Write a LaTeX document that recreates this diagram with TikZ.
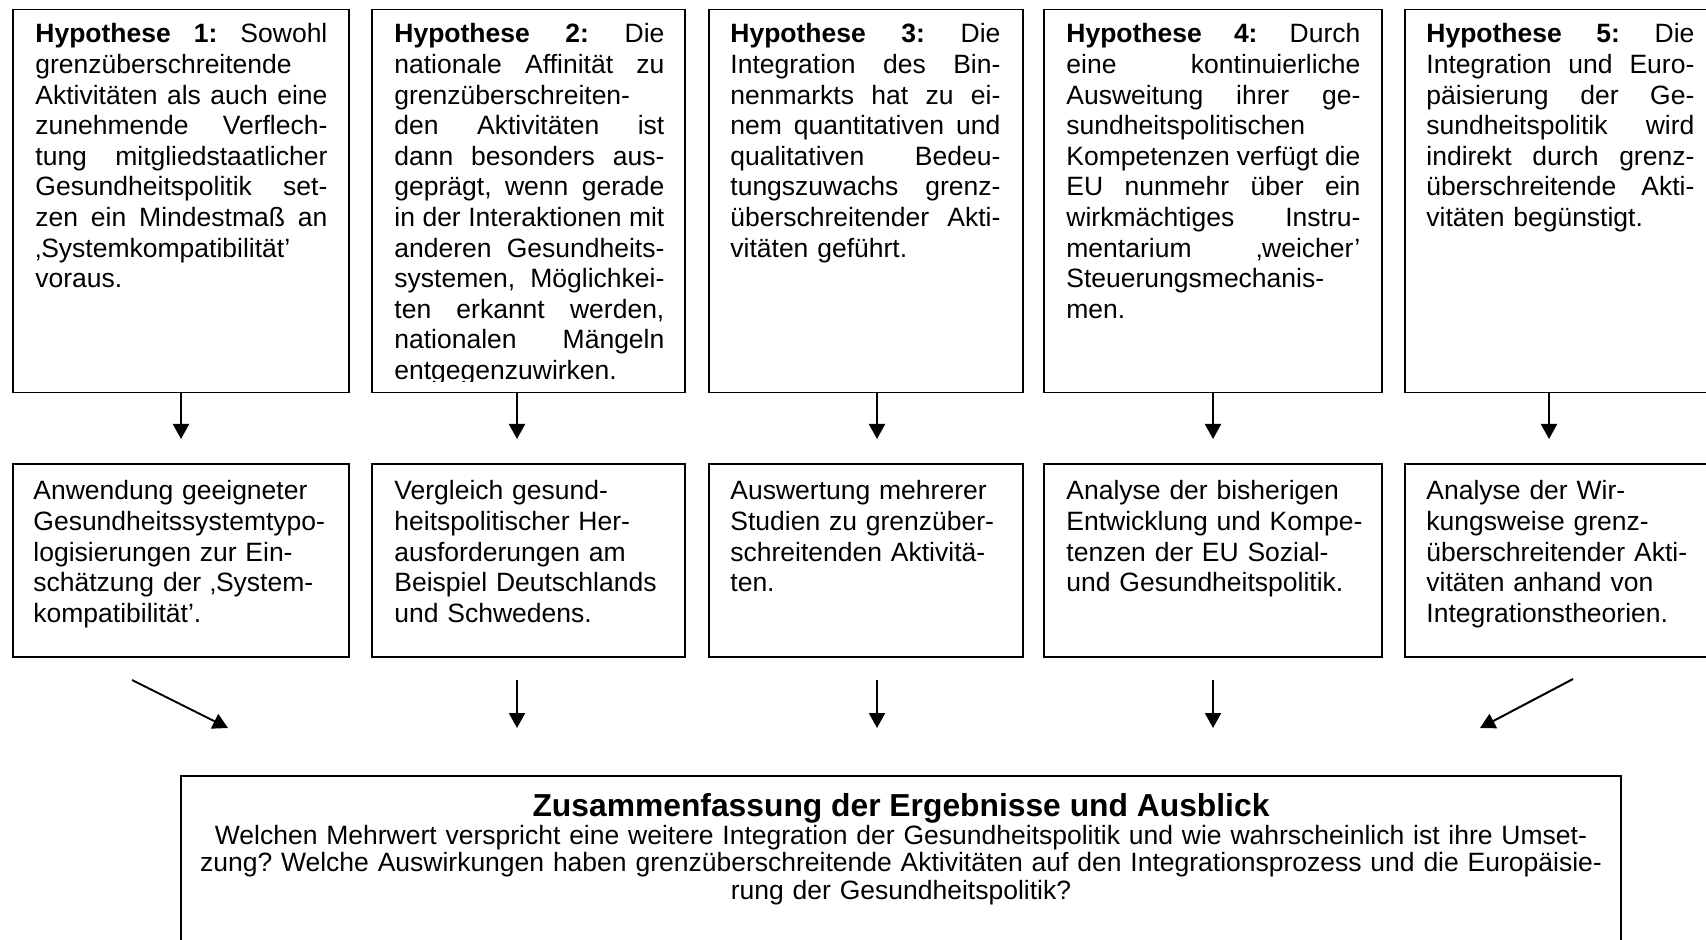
\documentclass[tikz,border=0pt]{standalone}
\usepackage{fontspec}
\setmainfont{Liberation Sans}
\usetikzlibrary{arrows.meta}
\newlength{\tw}
\newcommand{\jl}[1]{\leavevmode\hbox to\tw{#1}}
\newcommand{\jf}{\hskip 0.25em plus 1fil\relax}
\newcommand{\bodyfont}{\frenchspacing\fontsize{13.25pt}{15.3pt}\selectfont}
\newcommand{\botfont}{\frenchspacing\fontsize{13.25pt}{13.85pt}\selectfont}
\newcommand{\titlefont}{\fontsize{15.9pt}{18pt}\selectfont\bfseries}
\frenchspacing
\begin{document}
\begin{tikzpicture}[x=0.5pt,y=-0.5pt,
  box/.style={draw, line width=0.9pt, inner sep=0pt},
  txt/.style={anchor=base west, inner sep=0pt, text width=#1, align=left, font=\bodyfont},
  arr/.style={line width=1pt, -{Triangle[length=7.5pt,width=8pt]}}]
\useasboundingbox (0,0) rectangle (1706,940);
\fill[white] (0,0) rectangle (1706,940);
\clip (0,0) rectangle (1706,940);

% row 1 boxes
\node[box, minimum width=168pt, minimum height=191.5pt] (h1) at (181,201) {};
\node[box, minimum width=156.5pt, minimum height=191.5pt] (h2) at (528.5,201) {};
\node[box, minimum width=157pt, minimum height=191.5pt] (h3) at (866,201) {};
\node[box, minimum width=169pt, minimum height=191.5pt] (h4) at (1213,201) {};
\node[box, minimum width=156.5pt, minimum height=191.5pt] (h5) at (1561.5,201) {};

% row 2 boxes
\node[box, minimum width=168pt, minimum height=96.5pt] (m1) at (181,560.5) {};
\node[box, minimum width=156.5pt, minimum height=96.5pt] (m2) at (528.5,560.5) {};
\node[box, minimum width=157pt, minimum height=96.5pt] (m3) at (866,560.5) {};
\node[box, minimum width=169pt, minimum height=96.5pt] (m4) at (1213,560.5) {};
\node[box, minimum width=156.5pt, minimum height=96.5pt] (m5) at (1561.5,560.5) {};

% bottom box
\node[box, minimum width=720pt, minimum height=112pt] (z) at (901,888) {};

% row 1 texts
\node[txt=146pt] (t1) at (35,43) {\setlength{\tw}{146pt}%
\jl{\textbf{Hypothese}\jf\textbf{1:}\jf Sowohl}\\
grenzüberschreitende\\
\jl{Aktivitäten\jf als\jf auch\jf eine}\\
\jl{zunehmende\jf Verflech-}\\
\jl{tung\jf mitgliedstaatlicher}\\
\jl{Gesundheitspolitik\jf set-}\\
\jl{zen\jf ein\jf Mindestmaß\jf an}\\
‚Systemkompatibilität’\\
voraus.};

\begin{scope}
\clip (372,0) rectangle (685,382);
\node[txt=135pt] (t2) at (394,43) {\setlength{\tw}{135pt}%
\jl{\textbf{Hypothese}\jf\textbf{2:}\jf Die}\\
\jl{nationale\jf Affinität\jf zu}\\
grenzüberschreiten-\\
\jl{den\jf Aktivitäten\jf ist}\\
\jl{dann\jf besonders\jf aus-}\\
\jl{geprägt,\jf wenn\jf gerade}\\
\jl{in\jf der\jf Interaktionen\jf mit}\\
\jl{anderen\jf Gesundheits-}\\
\jl{systemen,\jf Möglichkei-}\\
\jl{ten\jf erkannt\jf werden,}\\
\jl{nationalen\jf Mängeln}\\
entgegenzuwirken.};
\end{scope}

\node[txt=135pt] (t3) at (730,43) {\setlength{\tw}{135pt}%
\jl{\textbf{Hypothese}\jf\textbf{3:}\jf Die}\\
\jl{Integration\jf des\jf Bin-}\\
\jl{nenmarkts\jf hat\jf zu\jf ei-}\\
\jl{nem\jf quantitativen\jf und}\\
\jl{qualitativen\jf Bedeu-}\\
\jl{tungszuwachs\jf grenz-}\\
\jl{überschreitender\jf Akti-}\\
vitäten geführt.};

\node[txt=147pt] (t4) at (1066,43) {\setlength{\tw}{147pt}%
\jl{\textbf{Hypothese}\jf\textbf{4:}\jf Durch}\\
\jl{eine\jf kontinuierliche}\\
\jl{Ausweitung\jf ihrer\jf ge-}\\
sundheitspolitischen\\
\jl{Kompetenzen\jf verfügt\jf die}\\
\jl{EU\jf nunmehr\jf über\jf ein}\\
\jl{wirkmächtiges\jf Instru-}\\
\jl{mentarium\jf ‚weicher’}\\
Steuerungsmechanis-\\
men.};

\node[txt=134pt] (t5) at (1426,43) {\setlength{\tw}{134pt}%
\jl{\textbf{Hypothese}\jf\textbf{5:}\jf Die}\\
\jl{Integration\jf und\jf Euro-}\\
\jl{päisierung\jf der\jf Ge-}\\
\jl{sundheitspolitik\jf wird}\\
\jl{indirekt\jf durch\jf grenz-}\\
\jl{überschreitende\jf Akti-}\\
vitäten begünstigt.};

% row 2 texts
\node[txt=150pt] (u1) at (33,500) {Anwendung geeigneter\\
Gesundheitssystemtypo-\\
logisierungen zur Ein-\\
schätzung der ‚System-\\
kompatibilität’.};
\node[txt=140pt] (u2) at (394,500) {Vergleich gesund-\\
heitspolitischer Her-\\
ausforderungen am\\
Beispiel Deutschlands\\
und Schwedens.};
\node[txt=140pt] (u3) at (730,500) {Auswertung mehrerer\\
Studien zu grenzüber-\\
schreitenden Aktivitä-\\
ten.};
\node[txt=150pt] (u4) at (1066,500) {Analyse der bisherigen\\
Entwicklung und Kompe-\\
tenzen der EU Sozial-\\
und Gesundheitspolitik.};
\node[txt=140pt] (u5) at (1426,500) {Analyse der Wir-\\
kungsweise grenz-\\
überschreitender Akti-\\
vitäten anhand von\\
Integrationstheorien.};

% bottom texts
\node[anchor=base, inner sep=0pt, font=\titlefont] (zt) at (901,816) {Zusammenfassung der Ergebnisse und Ausblick};
\node[anchor=base, inner sep=0pt, text width=715pt, align=center, font=\botfont] (zq) at (901,844) {Welchen Mehrwert verspricht eine weitere Integration der Gesundheitspolitik und wie wahrscheinlich ist ihre Umset-\\
zung? Welche Auswirkungen haben grenzüberschreitende Aktivitäten auf den Integrationsprozess und die Europäisie-\\
rung der Gesundheitspolitik?};

% arrows row 1 -> row 2
\coordinate (a1) at (181,439);
\coordinate (a2) at (517,439);
\coordinate (a3) at (877,439);
\coordinate (a4) at (1213,439);
\coordinate (a5) at (1549,439);
\draw[arr] (h1.south -| a1) -- (a1);
\draw[arr] (h2.south -| a2) -- (a2);
\draw[arr] (h3.south -| a3) -- (a3);
\draw[arr] (h4.south -| a4) -- (a4);
\draw[arr] (h5.south -| a5) -- (a5);

% arrows row 2 -> bottom
\coordinate (s1) at (132,680);  \coordinate (e1) at (228,728);
\coordinate (s2) at (517,680);  \coordinate (e2) at (517,728);
\coordinate (s3) at (877,680);  \coordinate (e3) at (877,728);
\coordinate (s4) at (1213,680); \coordinate (e4) at (1213,728);
\coordinate (s5) at (1573,679); \coordinate (e5) at (1480,728);
\draw[arr] (s1) -- (e1);
\draw[arr] (s2) -- (e2);
\draw[arr] (s3) -- (e3);
\draw[arr] (s4) -- (e4);
\draw[arr] (s5) -- (e5);
\end{tikzpicture}
\end{document}
